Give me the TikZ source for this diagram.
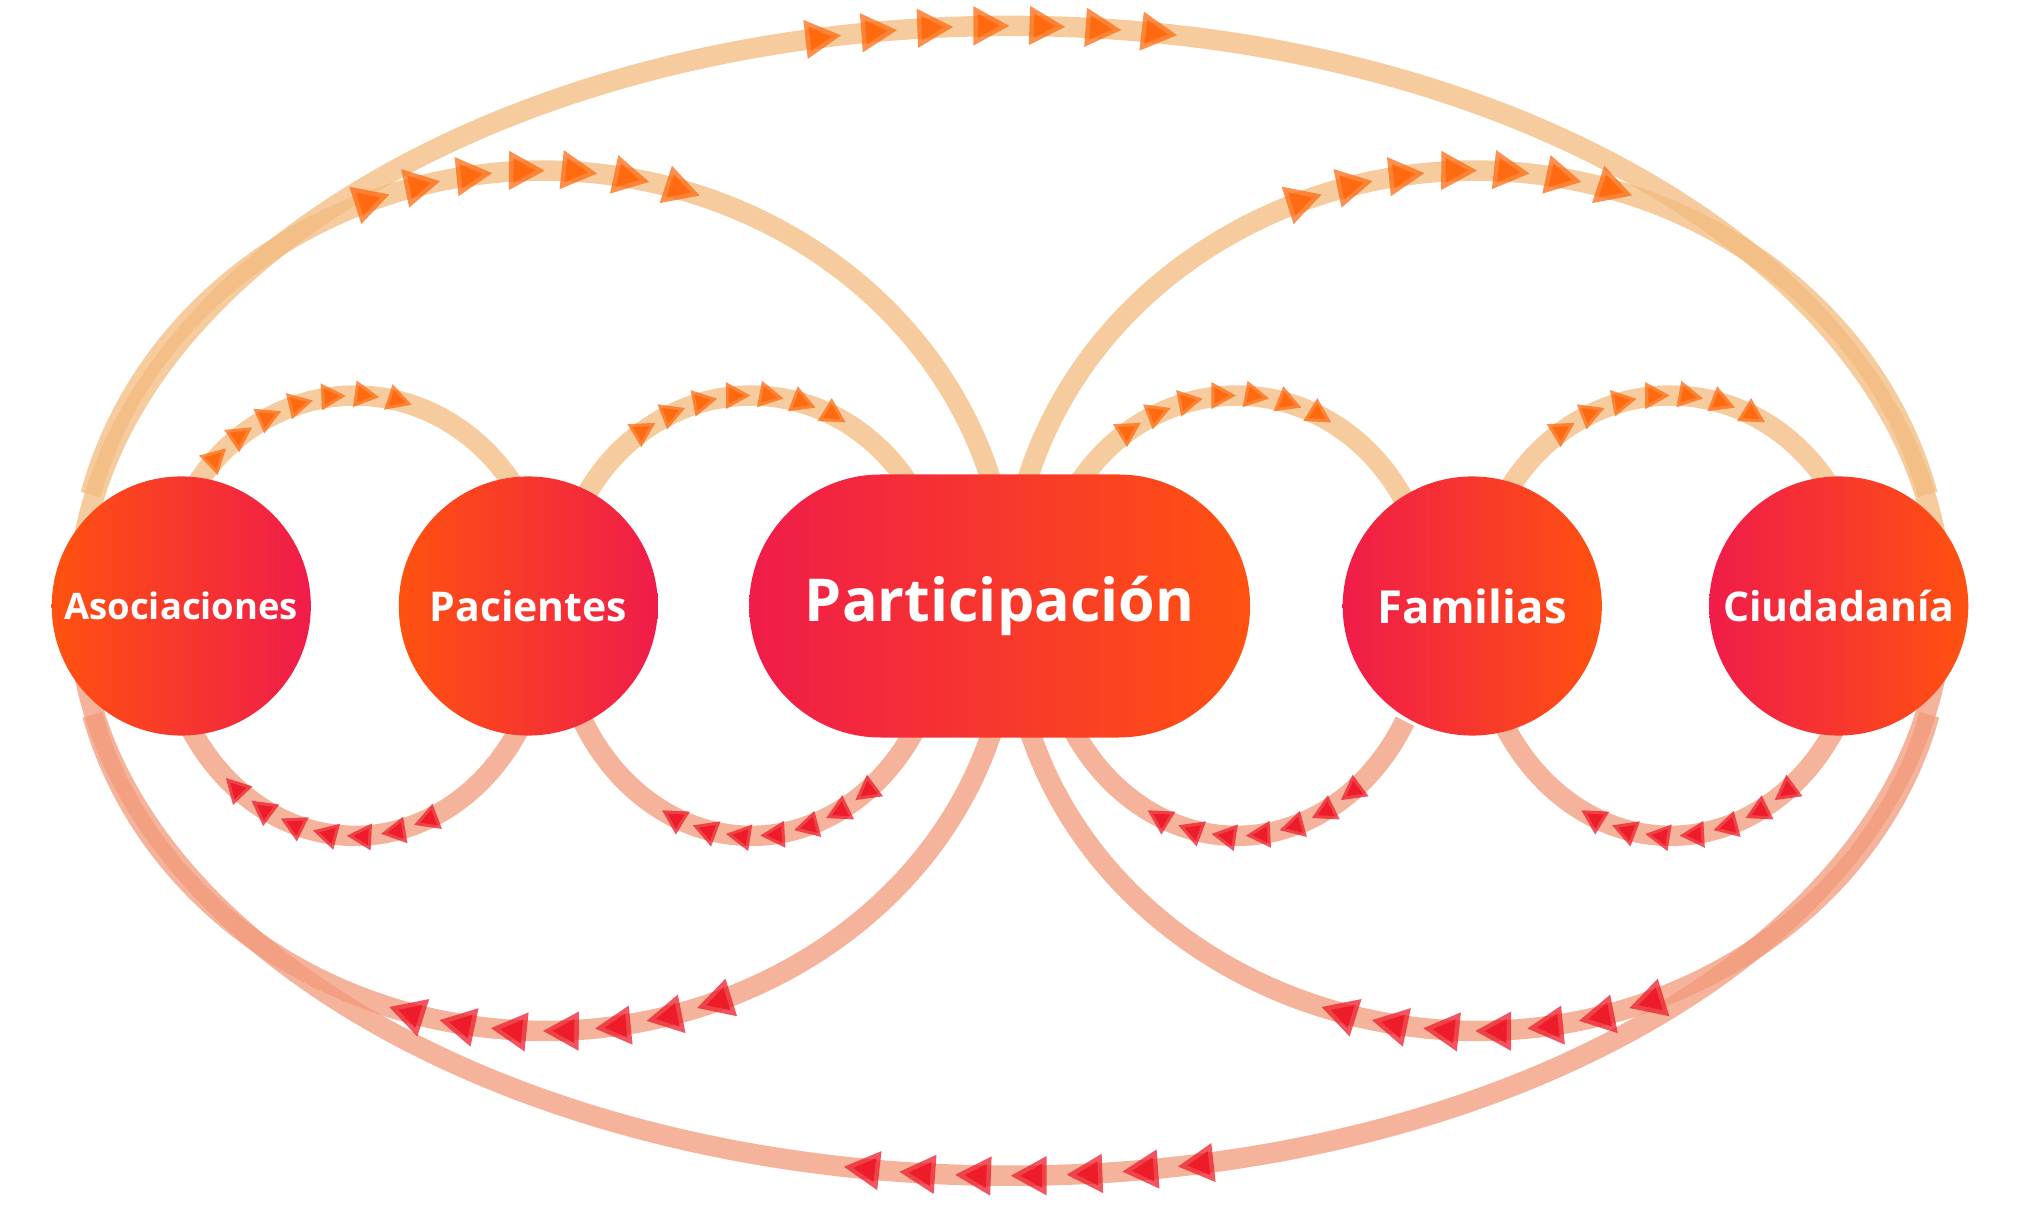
\documentclass[tikz,border=0pt]{standalone}
\usepackage{fontspec}
\setmainfont{Open Sans}
\usetikzlibrary{arrows.meta,decorations.markings,shapes.misc}
\definecolor{topline}{HTML}{F3BB7E}
\definecolor{botline}{HTML}{F29A7A}
\definecolor{toparr}{HTML}{FF6A10}
\definecolor{botarr}{HTML}{EE1C2A}
\definecolor{pk}{HTML}{F01C4A}
\definecolor{og}{HTML}{FF5210}
\tikzset{
  x=0.01cm,y=0.01cm,
  topband/.style={draw=topline,line width=4.5pt,draw opacity=0.75},
  botband/.style={draw=botline,line width=4.5pt,draw opacity=0.75},
  tarr/.style 2 args={postaction={decorate},decoration={markings,
     mark=between positions #1 step #2 with {\arrow[toparr]{Triangle[length=8pt,width=8pt]}}}},
  barr/.style 2 args={postaction={decorate},decoration={markings,
     mark=between positions #1 step #2 with {\arrow[botarr]{Triangle[length=8pt,width=8pt]}}}},
  starr/.style 2 args={postaction={decorate},decoration={markings,
     mark=between positions #1 step #2 with {\arrow[toparr]{Triangle[length=5.5pt,width=5.5pt]}}}},
  sbarr/.style 2 args={postaction={decorate},decoration={markings,
     mark=between positions #1 step #2 with {\arrow[botarr]{Triangle[length=5.5pt,width=5.5pt]}}}},
  circ/.style={circle,minimum size=2cm,inner sep=0pt,text=white,font=\bfseries\fontsize{9}{10}\selectfont},
}
\begin{document}
\begin{tikzpicture}
\useasboundingbox (0,0) rectangle (1560,942);
% outer ellipse
\draw[topband,tarr={0.43 and 0.58}{0.0233}] (60,474) arc[start angle=180,end angle=0,x radius=720,y radius=448];
\draw[botband,barr={0.43 and 0.58}{0.0233}] (1500,474) arc[start angle=0,end angle=-180,x radius=720,y radius=440];
% large arcs
\draw[topband,tarr={0.37 and 0.64}{0.044}] (70,560) arc[start angle=166,end angle=14,x radius=360,y radius=330];
\draw[topband,tarr={0.37 and 0.64}{0.044}] (790,560) arc[start angle=166,end angle=14,x radius=360,y radius=330];
\draw[botband,barr={0.37 and 0.64}{0.044}] (770,390) arc[start angle=-14,end angle=-166,x radius=360,y radius=322];
\draw[botband,barr={0.37 and 0.64}{0.044}] (1490,390) arc[start angle=-14,end angle=-166,x radius=360,y radius=322];
% small arcs
\draw[topband,starr={0.16 and 0.65}{0.08}] (144,555) arc[start angle=150,end angle=30,x radius=150,y radius=163];
\draw[botband,sbarr={0.36 and 0.85}{0.08}] (404,385) arc[start angle=-30,end angle=-150,x radius=150,y radius=177];
\foreach \c in {580,955,1290}{
  \draw[topband,starr={0.26 and 0.75}{0.08}] ({\c-130},555) arc[start angle=150,end angle=30,x radius=150,y radius=163];
  \draw[botband,sbarr={0.24 and 0.73}{0.08}] ({\c+130},385) arc[start angle=-30,end angle=-150,x radius=150,y radius=177];
}
% nodes
\node[circ,left color=og,right color=pk,font=\bfseries\fontsize{8}{9}\selectfont] (aso) at (140,474) {Asociaciones};
\node[circ,left color=og,right color=pk] (pac) at (408,474) {Pacientes};
\node[rounded rectangle,minimum width=4.1cm,minimum height=2.03cm,left color=pk,right color=og,text=white,font=\bfseries\fontsize{13}{15}\selectfont] (par) at (772,474) {Participación};
\node[circ,left color=pk,right color=og,font=\bfseries\fontsize{10}{11}\selectfont] (fam) at (1137,474) {Familias};
\node[circ,left color=pk,right color=og] (ciu) at (1420,474) {Ciudadanía};
\end{tikzpicture}
\end{document}
